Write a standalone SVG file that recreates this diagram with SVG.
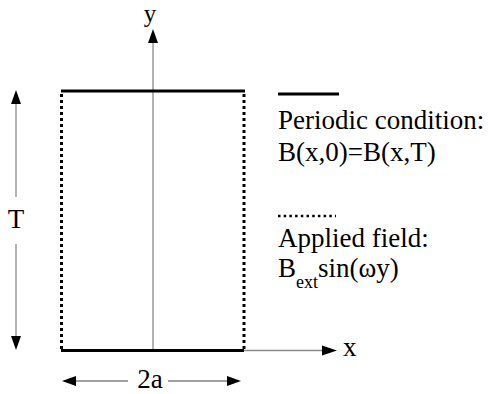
<svg xmlns="http://www.w3.org/2000/svg" width="488" height="394" viewBox="0 0 488 394">
<style>
text{font-family:'Liberation Serif','Times New Roman',serif;fill:#000;font-size:27px}
.sub{font-size:18px}
.axis{stroke:#8a8a8a;stroke-width:1.3;fill:none}
.dim{stroke:#444;stroke-width:1.2;fill:none}
.solid{stroke:#000;stroke-width:3;fill:none}
.dot{stroke:#000;stroke-width:3;stroke-dasharray:3 3;fill:none}
.head{fill:#000}
</style>
<rect width="488" height="394" fill="#fff"/>
<g id="domain">
<line class="dot" x1="61.5" y1="94" x2="61.5" y2="349"/>
<line class="dot" x1="244" y1="94" x2="244" y2="349"/>
</g>
<g id="axes">
<line class="axis" x1="153" y1="350" x2="153" y2="42"/>
<polygon class="head" points="153,29 148,43 158,43"/>
<text x="150" y="22" text-anchor="middle" style="font-size:25px">y</text>
<line class="axis" x1="244" y1="350.5" x2="323" y2="350.5"/>
<polygon class="head" points="337,350.5 322,345.5 322,355.5"/>
<text x="343" y="356">x</text>
</g>
<g id="boundary">
<line class="solid" x1="61" y1="91" x2="245" y2="91"/>
<line class="solid" x1="61" y1="350.5" x2="244" y2="350.5"/>
</g>
<g id="dimension-T">
<line class="axis" x1="16" y1="103" x2="16" y2="197"/>
<line class="axis" x1="16" y1="244" x2="16" y2="338"/>
<polygon class="head" points="16,90 11,104 21,104"/>
<polygon class="head" points="16,350 11,336 21,336"/>
<text x="16" y="228" text-anchor="middle">T</text>
</g>
<g id="dimension-2a">
<line class="dim" x1="74" y1="381" x2="128" y2="381"/>
<line class="dim" x1="168" y1="381" x2="228" y2="381"/>
<polygon class="head" points="62,381 76,376 76,386"/>
<polygon class="head" points="241,381 227,376 227,386"/>
<text x="150" y="388" text-anchor="middle">2a</text>
</g>
<g id="legend">
<line class="solid" x1="278" y1="94" x2="339" y2="94"/>
<text x="278" y="129">Periodic condition:</text>
<text x="278" y="161">B(x,0)=B(x,T)</text>
<line stroke="#000" stroke-width="2.5" stroke-dasharray="2.5 3.2" x1="278" y1="216" x2="336" y2="216"/>
<text x="278" y="247">Applied field:</text>
<text x="278" y="277">B<tspan class="sub" dy="11">ext</tspan><tspan dy="-11">sin(ωy)</tspan></text>
</g>
</svg>
